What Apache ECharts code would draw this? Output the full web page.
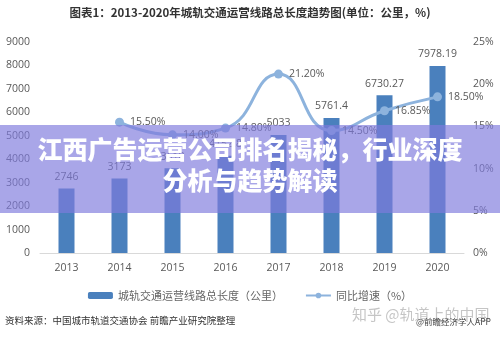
<!DOCTYPE html>
<html><head><meta charset="utf-8">
<script src="https://cdn.jsdelivr.net/npm/echarts@6/dist/echarts.min.js"></script>
<style>html,body{margin:0;padding:0;background:#fff}#c{width:500px;height:338px}</style>
</head><body><div id="c"></div>
<script>
var categories = ['2013','2014','2015','2016','2017','2018','2019','2020'];
var lengthValues = [2746, 3173, 3618, 4152.8, 5033, 5761.4, 6730.27, 7978.19];
var growthValues = [null, 15.5, 14.0, 14.8, 21.2, 14.5, 16.85, 18.5];
var growthLabels = ['', '15.50%', '14.00%', '14.80%', '21.20%', '14.50%', '16.85%', '18.50%'];
var leftTicks = [0, 9000, 1000];
var rightTicks = [0, 25, 5];
var seriesNames = ['城轨交通运营线路总长度（公里）', '同比增速（%）'];
var titleText = '图表1：2013-2020年城轨交通运营线路总长度趋势图(单位：公里，%)';
var bannerLines = ['江西广告运营公司排名揭秘，行业深度', '分析与趋势解读'];
var sourceText = '资料来源：中国城市轨道交通协会 前瞻产业研究院整理';

var cjk = '"Noto Sans CJK SC", "Noto Sans", sans-serif';
var num = '"Open Sans", sans-serif';
var chart = echarts.init(document.getElementById('c'), null, {renderer: 'canvas'});
chart.setOption({
  animation: false,
  textStyle: {fontFamily: cjk},
  grid: {left: 40, right: 36, top: 42, bottom: 85},
  legend: {
    data: seriesNames, top: 285, left: 'center', itemWidth: 25, itemHeight: 7, itemGap: 22,
    textStyle: {fontSize: 11, color: '#666', fontFamily: cjk}
  },
  xAxis: {
    type: 'category', data: categories,
    axisLine: {lineStyle: {color: '#d9d9d9'}}, axisTick: {show: false},
    axisLabel: {color: '#595959', fontSize: 10.5, margin: 10, fontFamily: num}
  },
  yAxis: [
    {type: 'value', min: leftTicks[0], max: leftTicks[1], interval: leftTicks[2],
     splitLine: {show: false}, axisLine: {show: false}, axisTick: {show: false},
     axisLabel: {color: '#595959', fontSize: 10.5, margin: 10, fontFamily: num,
       formatter: function (v) { return String(v); }}},
    {type: 'value', min: rightTicks[0], max: rightTicks[1], interval: rightTicks[2],
     splitLine: {show: false}, axisLine: {show: false}, axisTick: {show: false},
     axisLabel: {color: '#595959', fontSize: 10.5, margin: 9, fontFamily: num,
       formatter: function (v) { return v + '%'; }}}
  ],
  series: [
    {name: seriesNames[0], type: 'bar', data: lengthValues, barWidth: 16,
     itemStyle: {color: '#4a80bd'},
     label: {show: true, position: 'top', color: '#595959', fontSize: 10.5, distance: 6,
       fontFamily: num, formatter: function (p) { return String(p.value); }}},
    {name: seriesNames[1], type: 'line', yAxisIndex: 1, data: growthValues, smooth: 0.5,
     connectNulls: false, symbol: 'circle', symbolSize: 9,
     lineStyle: {color: '#8db3dd', width: 3}, itemStyle: {color: '#8db3dd'},
     label: {show: true, position: 'right', distance: 6, color: '#595959', fontSize: 10.5,
       fontFamily: num,
       formatter: function (p) { return growthLabels[p.dataIndex]; }}}
  ],
  graphic: [
    {type: 'text', left: 'center', top: 7, z: 50,
     style: {text: titleText, fill: '#333', font: 'bold 11.5px ' + cjk}},
    {type: 'rect', left: 0, top: 125, z: 100, shape: {width: 500, height: 88},
     style: {fill: 'rgba(127,122,221,0.67)'}},
    {type: 'text', left: 'center', top: 137, z: 101,
     style: {text: bannerLines[0], fill: '#fff', font: '900 25px ' + cjk}},
    {type: 'text', left: 'center', top: 168, z: 101,
     style: {text: bannerLines[1], fill: '#fff', font: '900 25px ' + cjk}},
    {type: 'text', left: 5, top: 316, z: 50,
     style: {text: sourceText, fill: '#333', font: '9.5px ' + cjk}},
    {type: 'text', left: 352, top: 307, z: 50,
     style: {text: '知乎 @轨道上的中国', fill: 'rgba(150,150,150,0.55)', font: '15px ' + cjk}},
    {type: 'text', left: 416, top: 318, z: 51,
     style: {text: '@前瞻经济学人APP', fill: '#444', font: '8.5px ' + cjk}}
  ]
});
</script></body></html>
